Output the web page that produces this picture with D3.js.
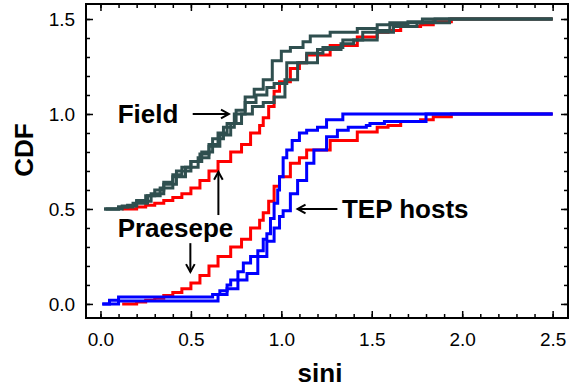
<!DOCTYPE html>
<html>
<head>
<meta charset="utf-8">
<script src="https://cdn.jsdelivr.net/npm/d3@7"></script>
<style>
  body { margin: 0; background: #fff; }
  svg { display: block; font-family: 'Liberation Sans', Arial, sans-serif; }
  .ejes path, .ejes line { stroke: #000; }
  .ejes text { font-size: 19px; fill: #000; }
  .lbl { font-size: 26px; font-weight: bold; fill: #000; }
</style>
</head>
<body>
<div id="graf"></div>
<script>
// CDFs: [sini, cdf]
const praesepe = [[0.12,0],[0.2,0.01],[0.25,0.02],[0.3,0.03],[0.35,0.045],[0.4,0.06],[0.45,0.08],[0.5,0.11],[0.55,0.15],[0.6,0.2],[0.65,0.25],[0.72,0.3],[0.78,0.34],[0.83,0.4],[0.88,0.44],[0.9,0.48],[0.93,0.54],[0.96,0.62],[0.99,0.67],[1.05,0.74],[1.1,0.77],[1.14,0.81],[1.27,0.86],[1.42,0.905],[1.53,0.93],[1.59,0.94],[1.66,0.96],[1.77,0.97],[1.84,0.985],[1.94,1.0],[2.5,1.0]]
const fieldA = [[0.02,0],[0.1,0.01],[0.15,0.02],[0.2,0.045],[0.25,0.07],[0.3,0.1],[0.35,0.14],[0.4,0.18],[0.45,0.22],[0.5,0.25],[0.55,0.29],[0.6,0.34],[0.65,0.4],[0.7,0.45],[0.75,0.52],[0.8,0.59],[0.85,0.63],[0.9,0.68],[0.95,0.78],[1.0,0.83],[1.05,0.85],[1.12,0.88],[1.16,0.91],[1.27,0.93],[1.42,0.95],[1.53,0.97],[1.6,0.98],[1.78,1.0],[2.5,1.0]]
const fieldB = [[0.03,0],[0.12,0.015],[0.2,0.04],[0.28,0.08],[0.35,0.13],[0.42,0.2],[0.5,0.25],[0.56,0.3],[0.62,0.37],[0.68,0.43],[0.74,0.5],[0.8,0.56],[0.86,0.6],[0.92,0.64],[0.96,0.66],[1.03,0.77],[1.14,0.82],[1.23,0.85],[1.34,0.89],[1.45,0.93],[1.53,0.94],[1.6,0.97],[1.7,0.985],[1.85,1.0],[2.5,1.0]]
const fieldC = [[0.02,0],[0.1,0.01],[0.18,0.03],[0.26,0.07],[0.33,0.11],[0.4,0.17],[0.47,0.22],[0.54,0.27],[0.6,0.33],[0.66,0.39],[0.72,0.45],[0.78,0.5],[0.84,0.54],[0.9,0.56],[0.96,0.59],[1.02,0.68],[1.09,0.77],[1.2,0.84],[1.33,0.87],[1.4,0.89],[1.53,0.93],[1.62,0.96],[1.75,0.98],[1.93,1.0],[2.5,1.0]]
const tep1 = [[0.01,0],[0.05,0.02],[0.1,0.037],[0.6,0.037],[0.62,0.05],[0.66,0.07],[0.7,0.1],[0.72,0.126],[0.76,0.17],[0.79,0.215],[0.83,0.25],[0.87,0.28],[0.9,0.34],[0.92,0.37],[0.94,0.45],[0.96,0.53],[0.98,0.6],[0.99,0.67],[1.01,0.77],[1.03,0.81],[1.06,0.86],[1.1,0.9],[1.14,0.915],[1.2,0.93],[1.25,0.97],[1.34,1.0],[2.5,1.0]]
const tep2 = [[0.01,0],[0.1,0.016],[0.62,0.016],[0.65,0.05],[0.7,0.08],[0.76,0.126],[0.81,0.16],[0.87,0.25],[0.92,0.33],[0.96,0.4],[0.99,0.46],[1.01,0.49],[1.05,0.58],[1.09,0.65],[1.14,0.74],[1.18,0.81],[1.25,0.88],[1.31,0.915],[1.37,0.93],[1.47,0.94],[1.49,0.95],[1.57,0.96],[1.8,1.0],[2.5,1.0]]

const xTicks = [0, 0.5, 1, 1.5, 2, 2.5]
const yTicks = [0, 0.5, 1, 1.5]

const series = [
  { data: praesepe, off: 0.5, color: '#ff0000' },
  { data: praesepe, off: 0, color: '#ff0000' },
  { data: fieldA, off: 0.5, color: '#2f4f4f' },
  { data: fieldB, off: 0.5, color: '#2f4f4f' },
  { data: fieldC, off: 0.5, color: '#2f4f4f' },
  { data: tep1, off: 0, color: '#0000ff' },
  { data: tep2, off: 0, color: '#0000ff' },
]

// annotations: text anchor and arrows (from -> to) in data units
const notas = [
  { text: 'Field', x: 0.095, y: 0.955 },
  { text: 'Praesepe', x: 0.095, y: 0.35 },
  { text: 'TEP hosts', x: 1.335, y: 0.455 },
]
const flechas = [
  { x1: 0.51, y1: 1.0, x2: 0.71, y2: 1.0 },
  { x1: 0.652, y1: 0.468, x2: 0.652, y2: 0.695 },
  { x1: 0.497, y1: 0.32, x2: 0.497, y2: 0.168 },
  { x1: 1.31, y1: 0.5, x2: 1.09, y2: 0.5 },
]

const anchoTotal = 569
const altoTotal = 389
const margin = { top: 4, bottom: 71, left: 86, right: 1 }
const ancho = anchoTotal - margin.left - margin.right
const alto = altoTotal - margin.top - margin.bottom

const svg = d3.select('#graf').append('svg')
  .attr('width', anchoTotal)
  .attr('height', altoTotal)

const g = svg.append('g')
  .attr('transform', `translate(${margin.left}, ${margin.top})`)

const x = d3.scaleLinear().domain([-0.08, 2.585]).range([0, ancho])
const y = d3.scaleLinear().domain([-0.074, 1.579]).range([alto, 0])

const minX = d3.range(0, 2.55, 0.1)
const minY = d3.range(0, 1.55, 0.1)

// curves (stepped CDFs)
const linea = d3.line()
  .x(d => x(d[0]))
  .curve(d3.curveStepAfter)

series.forEach(s => {
  g.append('path')
    .datum(s.data)
    .attr('fill', 'none')
    .attr('stroke', s.color)
    .attr('stroke-width', 3)
    .attr('d', linea.y(d => y(d[1] + s.off)))
})

// axes with inward ticks on all four sides
function ejes(axisFn, scale, mayor, menor, tr, labels) {
  const a = g.append('g').attr('class', 'ejes').attr('transform', tr)
  a.call(axisFn(scale).tickValues(menor).tickSize(-4).tickFormat(''))
  a.select('.domain').remove()
  const b = g.append('g').attr('class', 'ejes').attr('transform', tr)
  b.call(axisFn(scale).tickValues(mayor).tickSize(-7).tickPadding(10)
    .tickFormat(labels ? d3.format('.1f') : ''))
  b.select('.domain').remove()
  b.selectAll('line').attr('stroke-width', 1.5)
  a.selectAll('line').attr('stroke-width', 1.5)
  return b
}
ejes(d3.axisBottom, x, xTicks, minX, `translate(0, ${alto})`, true)
  .selectAll('text').attr('dy', '0.95em')
ejes(d3.axisTop, x, xTicks, minX, 'translate(0, 0)', false)
ejes(d3.axisLeft, y, yTicks, minY, 'translate(0, 0)', true)
  .selectAll('text').attr('dx', '-0.05em')
ejes(d3.axisRight, y, yTicks, minY, `translate(${ancho}, 0)`, false)

g.append('rect')
  .attr('width', ancho)
  .attr('height', alto)
  .attr('fill', 'none')
  .attr('stroke', '#000')
  .attr('stroke-width', 2)

// annotations
g.selectAll('.nota').data(notas).enter()
  .append('text')
  .attr('class', 'lbl nota')
  .attr('x', d => x(d.x))
  .attr('y', d => y(d.y))
  .text(d => d.text)

flechas.forEach(f => {
  const x1 = x(f.x1), y1 = y(f.y1), x2 = x(f.x2), y2 = y(f.y2)
  const ang = Math.atan2(y2 - y1, x2 - x1)
  const h = 9, w = 0.5
  g.append('line')
    .attr('x1', x1).attr('y1', y1).attr('x2', x2).attr('y2', y2)
    .attr('stroke', '#000').attr('stroke-width', 2)
  g.append('path')
    .attr('d', `M${x2 - h * Math.cos(ang - w)},${y2 - h * Math.sin(ang - w)}L${x2},${y2}L${x2 - h * Math.cos(ang + w)},${y2 - h * Math.sin(ang + w)}`)
    .attr('fill', 'none').attr('stroke', '#000').attr('stroke-width', 2)
})

// axis titles
svg.append('text')
  .attr('class', 'lbl')
  .attr('text-anchor', 'middle')
  .attr('x', 320)
  .attr('y', 382)
  .text('sini')

svg.append('text')
  .attr('class', 'lbl')
  .attr('text-anchor', 'middle')
  .attr('transform', 'translate(33, 150) rotate(-90)')
  .text('CDF')
</script>
</body>
</html>
